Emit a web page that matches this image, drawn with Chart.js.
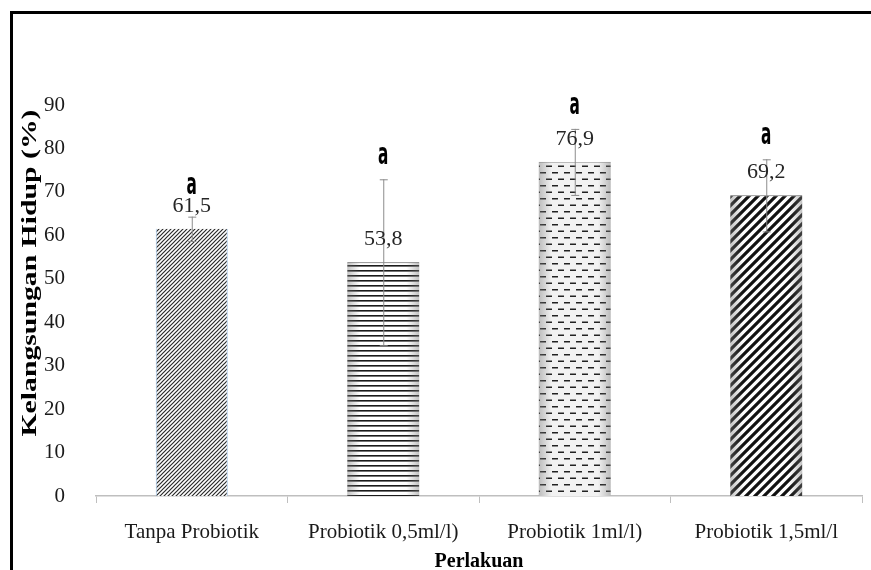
<!DOCTYPE html>
<html lang="id">
<head>
  <meta charset="UTF-8">
  <title>Kelangsungan Hidup</title>
  <script src="https://cdn.jsdelivr.net/npm/chart.js"></script>
  <style>
    body { margin: 0; background: #fff; overflow: hidden; }
    #wrap { width: 871px; height: 570px; }
  </style>
</head>
<body>
  <div id="wrap"><canvas id="chart" width="871" height="570"></canvas></div>

  <script>
    // data
    const categories = ['Tanpa Probiotik', 'Probiotik 0,5ml/l)', 'Probiotik 1ml/l)', 'Probiotik 1,5ml/l'];
    const survival = [61.5, 53.8, 76.9, 69.2];
    const stdError = [2.8, 19.1, 7.6, 8.3];
    const valueLabels = ['61,5', '53,8', '76,9', '69,2'];
    const letters = ['a', 'a', 'a', 'a'];
    const yMin = 0, yMax = 90, yStep = 10;

    const serif = '"Liberation Serif", "Times New Roman", serif';

    // pola arsiran untuk batang
    function makeTile(w, h, draw) {
      const c = document.createElement('canvas');
      c.width = w; c.height = h;
      const g = c.getContext('2d');
      g.fillStyle = '#fff';
      g.fillRect(0, 0, w, h);
      draw(g, w, h);
      return g.createPattern(c, 'repeat');
    }
    function diag(s, lw, col) {
      return makeTile(s, s, (g) => {
        g.strokeStyle = col;
        g.lineWidth = lw;
        g.beginPath();
        g.moveTo(-s / 2, s / 2); g.lineTo(s / 2, -s / 2);
        g.moveTo(0, s); g.lineTo(s, 0);
        g.moveTo(s / 2, s * 1.5); g.lineTo(s * 1.5, s / 2);
        g.stroke();
      });
    }
    const patterns = [
      diag(4, 1.2, '#2a2a2a'),
      makeTile(8, 5, (g, w) => { g.fillStyle = '#1a1a1a'; g.fillRect(0, 0, w, 1.6); }),
      makeTile(12, 13, (g) => {
        g.fillStyle = '#f2f2f2'; g.fillRect(0, 0, 12, 13);
        g.fillStyle = '#222';
        g.fillRect(0, 3, 6, 1.5);
        g.fillRect(6, 9.5, 6, 1.5);
      }),
      diag(9, 3.2, '#111')
    ];

    const framePlugin = {
      id: 'frame',
      beforeDraw(chart) {
        const ctx = chart.ctx;
        ctx.save();
        ctx.fillStyle = '#fff';
        ctx.fillRect(0, 0, chart.width, chart.height);
        ctx.fillStyle = '#000';
        ctx.fillRect(10, 11, chart.width, 3);
        ctx.fillRect(10, 11, 3, chart.height);
        ctx.restore();
      }
    };

    // bayangan tepi batang, galat baku, label nilai dan huruf notasi
    const annotPlugin = {
      id: 'annot',
      afterDatasetsDraw(chart) {
        const ctx = chart.ctx;
        const y = chart.scales.y;
        const bars = chart.getDatasetMeta(0).data;
        ctx.save();
        bars.forEach((bar, i) => {
          const left = bar.x - bar.width / 2;
          if (i > 0) {
            const gr = ctx.createLinearGradient(left, 0, left + bar.width, 0);
            gr.addColorStop(0, 'rgba(120,120,120,0.45)');
            gr.addColorStop(0.18, 'rgba(120,120,120,0)');
            gr.addColorStop(0.82, 'rgba(120,120,120,0)');
            gr.addColorStop(1, 'rgba(120,120,120,0.45)');
            ctx.fillStyle = gr;
            ctx.fillRect(left, bar.y, bar.width, bar.base - bar.y);
          }
        });
        bars.forEach((bar, i) => {
          const hi = y.getPixelForValue(survival[i] + stdError[i]);
          const lo = y.getPixelForValue(survival[i] - stdError[i]);
          ctx.strokeStyle = '#8c8c8c';
          ctx.lineWidth = 1;
          ctx.beginPath();
          ctx.moveTo(bar.x + 0.5, hi); ctx.lineTo(bar.x + 0.5, lo);
          ctx.moveTo(bar.x - 3.5, hi + 0.5); ctx.lineTo(bar.x + 4.5, hi + 0.5);
          ctx.moveTo(bar.x - 3.5, lo + 0.5); ctx.lineTo(bar.x + 4.5, lo + 0.5);
          ctx.stroke();
        });
        bars.forEach((bar, i) => {
          const labelY = bar.y - 23;
          ctx.fillStyle = '#262626';
          ctx.font = '22px ' + serif;
          ctx.textAlign = 'center';
          ctx.textBaseline = 'middle';
          ctx.fillText(valueLabels[i], bar.x, labelY);

          const hi = y.getPixelForValue(survival[i] + stdError[i]);
          const aY = Math.min(hi - 23, labelY - 20);
          ctx.save();
          ctx.translate(bar.x, aY);
          ctx.scale(1, 1.8);
          ctx.fillStyle = '#000';
          ctx.font = 'bold 17px "Liberation Sans Narrow", "DejaVu Sans Condensed", sans-serif';
          ctx.fillText(letters[i], 0, 0);
          ctx.restore();
        });
        ctx.restore();
      },
      afterDraw(chart) {
        const ctx = chart.ctx;
        const text = 'Kelangsungan Hidup (%)';
        ctx.save();
        ctx.font = 'bold 21px ' + serif;
        ctx.fillStyle = '#000';
        ctx.textAlign = 'center';
        ctx.textBaseline = 'middle';
        ctx.translate(31, 273);
        ctx.rotate(-Math.PI / 2);
        ctx.scale(327 / ctx.measureText(text).width, 1);
        ctx.fillText(text, 0, 0);
        ctx.restore();
      }
    };

    new Chart(document.getElementById('chart'), {
      type: 'bar',
      data: {
        labels: categories,
        datasets: [{
          data: survival,
          backgroundColor: patterns,
          borderColor: ['#9dc3e6', '#555', '#bbb', '#666'],
          borderWidth: [{ left: 1, right: 1 }, { top: 1 }, { top: 1 }, { top: 1 }],
          borderSkipped: 'bottom',
          categoryPercentage: 1,
          barPercentage: 0.376
        }]
      },
      options: {
        responsive: false,
        animation: false,
        layout: { padding: { top: 105, right: 9, left: 0, bottom: 0 } },
        plugins: {
          legend: { display: false },
          tooltip: { enabled: false }
        },
        scales: {
          x: {
            grid: { drawOnChartArea: false, drawTicks: true, tickLength: 7, color: '#bfbfbf' },
            border: { color: '#bfbfbf', width: 1.5 },
            ticks: { color: '#1a1a1a', padding: 17, maxRotation: 0, font: { family: serif, size: 21 } },
            title: {
              display: true,
              text: 'Perlakuan',
              color: '#000',
              padding: { top: 2, bottom: -4 },
              font: { family: serif, size: 20, weight: 'bold' }
            },
            afterFit(scale) { scale.height = 74; }
          },
          y: {
            min: yMin,
            max: yMax,
            grid: { display: false },
            border: { display: false },
            ticks: { stepSize: yStep, color: '#1a1a1a', padding: 23, font: { family: serif, size: 21 } },
            afterFit(scale) { scale.width = 96; }
          }
        }
      },
      plugins: [framePlugin, annotPlugin]
    });
  </script>
</body>
</html>
